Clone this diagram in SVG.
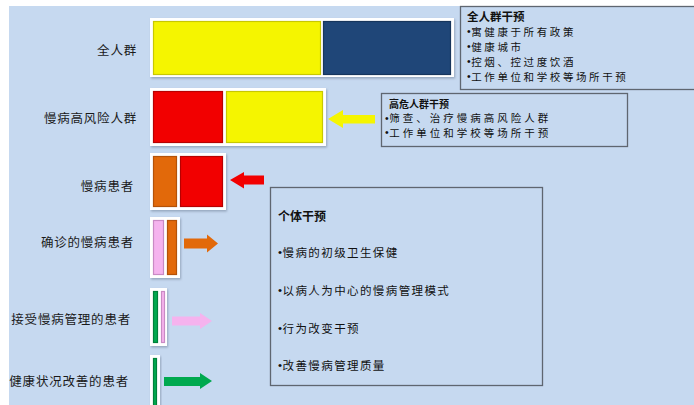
<svg xmlns="http://www.w3.org/2000/svg" width="694" height="405" viewBox="0 0 694 405">
<defs>
<filter id="sh" x="-20%" y="-20%" width="140%" height="140%">
<feDropShadow dx="1" dy="1.5" stdDeviation="1" flood-color="#7f8fa6" flood-opacity="0.7"/>
</filter>
<style>
.frame{fill:#ffffff;filter:url(#sh)}
.bar{stroke-width:1.2}
.y{fill:#f5f500;stroke:#c8c800}
.n{fill:#1f4678;stroke:#16355c}
.r{fill:#f20000;stroke:#b80000}
.o{fill:#e2690a;stroke:#b45208}
.p{fill:#f5b3ee;stroke:#c98ac4}
.g{fill:#00a94f;stroke:#00803b}
.lbl{font-family:"Noto Sans CJK SC","Noto Sans",sans-serif;font-size:12.5px;letter-spacing:0.8px;fill:#1a1a1a;text-anchor:end;dominant-baseline:central}
.box{fill:none;stroke:#5f6670;stroke-width:1.3}
.bt{font-family:"Noto Sans CJK SC","Noto Sans",sans-serif;fill:#111;dominant-baseline:central}
.b1{font-size:10.5px;letter-spacing:2.6px}
.b2{font-size:10.5px;letter-spacing:3px}
.b3{font-size:11.5px;letter-spacing:1.4px}
.bl{font-family:"Liberation Sans",sans-serif;letter-spacing:0.5px}
.bold{font-weight:bold;letter-spacing:0}
</style>
</defs>
<rect x="0" y="0" width="694" height="405" fill="#ffffff"/>
<rect x="9" y="6" width="685" height="399" fill="#c6d9f0"/>

<g id="row-all">
<rect class="frame" x="150" y="18" width="304" height="59"/>
<rect class="bar y" x="153.5" y="21.5" width="167" height="53"/>
<rect class="bar n" x="323.5" y="21.5" width="127" height="53"/>
<text class="lbl" x="137" y="49">全人群</text>
</g>
<g id="row-highrisk">
<rect class="frame" x="150" y="88" width="176" height="58"/>
<rect class="bar r" x="153.5" y="91.5" width="69" height="51"/>
<rect class="bar y" x="226.5" y="91.5" width="96" height="51"/>
<text class="lbl" x="137" y="117">慢病高风险人群</text>
</g>
<g id="row-patients">
<rect class="frame" x="150" y="153" width="76" height="57"/>
<rect class="bar o" x="153.5" y="156.5" width="23" height="50"/>
<rect class="bar r" x="180.5" y="156.5" width="42" height="50"/>
<text class="lbl" x="134" y="185">慢病患者</text>
</g>
<g id="row-diagnosed">
<rect class="frame" x="150" y="217" width="30" height="61"/>
<rect class="bar p" x="153.5" y="220.5" width="10" height="54"/>
<rect class="bar o" x="167.5" y="220.5" width="9" height="54"/>
<text class="lbl" x="134" y="241">确诊的慢病患者</text>
</g>
<g id="row-managed">
<rect class="frame" x="150" y="288" width="17" height="58"/>
<rect class="bar g" x="153.5" y="291.5" width="4" height="51"/>
<rect class="bar p" x="161.5" y="291.5" width="3" height="51"/>
<text class="lbl" x="131" y="318">接受慢病管理的患者</text>
</g>
<g id="row-improved">
<rect class="frame" x="150" y="355" width="10" height="60"/>
<rect class="bar g" x="153.5" y="358.5" width="3" height="50"/>
<text class="lbl" x="129" y="380">健康状况改善的患者</text>
</g>

<g id="box-population">
<rect class="box" x="460.5" y="6.5" width="240" height="83"/>
<text class="bt bold" x="467" y="16" font-size="11.5">全人群干预</text>
<text class="bt b1" x="467" y="31"><tspan class="bl">•</tspan>寓健康于所有政策</text>
<text class="bt b1" x="467" y="46"><tspan class="bl">•</tspan>健康城市</text>
<text class="bt b1" x="467" y="61"><tspan class="bl">•</tspan>控烟、控过度饮酒</text>
<text class="bt b1" x="467" y="76"><tspan class="bl">•</tspan>工作单位和学校等场所干预</text>
</g>
<g id="box-highrisk">
<rect class="box" x="381.5" y="93.5" width="246" height="53"/>
<text class="bt bold" x="389" y="103" font-size="10">高危人群干预</text>
<text class="bt b2" x="385" y="117.5"><tspan class="bl">•</tspan>筛查、治疗慢病高风险人群</text>
<text class="bt b2" x="385" y="132"><tspan class="bl">•</tspan>工作单位和学校等场所干预</text>
</g>
<g id="box-individual">
<rect class="box" x="270.5" y="187.5" width="272" height="198"/>
<text class="bt bold" x="278" y="215" font-size="12">个体干预</text>
<text class="bt b3" x="278" y="252"><tspan class="bl">•</tspan>慢病的初级卫生保健</text>
<text class="bt b3" x="278" y="290"><tspan class="bl">•</tspan>以病人为中心的慢病管理模式</text>
<text class="bt b3" x="278" y="328"><tspan class="bl">•</tspan>行为改变干预</text>
<text class="bt b3" x="278" y="365"><tspan class="bl">•</tspan>改善慢病管理质量</text>
</g>

<g id="connectors">
<polygon fill="#f5f500" points="328,119 343,110 343,115 375,115 375,123.5 343,123.5 343,128"/>
<polygon fill="#f20000" points="230,180 244,172 244,175.5 264,175.5 264,184.5 244,184.5 244,188.5"/>
<polygon fill="#e2690a" points="218,243.5 207,234.5 207,238.5 184,238.5 184,248.5 207,248.5 207,252.5"/>
<polygon fill="#f5b3ee" points="212,321 200,313 200,316.5 172,316.5 172,325.5 200,325.5 200,329"/>
<polygon fill="#00a94f" points="212,381 200,373 200,377 164,377 164,386 200,386 200,389"/>
</g>
</svg>
